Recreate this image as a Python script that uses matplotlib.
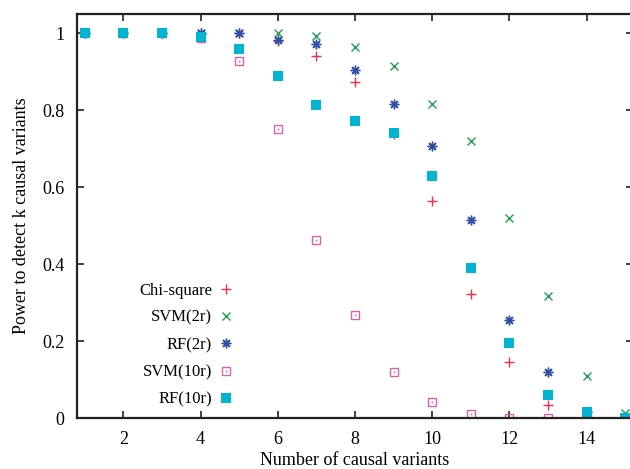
import numpy as np
import matplotlib
matplotlib.use('Agg')
import matplotlib.pyplot as plt
from matplotlib.ticker import FuncFormatter

plt.rcParams['font.family'] = ['Liberation Serif', 'DejaVu Serif']

# number of causal variants
k = [1, 2, 3, 4, 5, 6, 7, 8, 9, 10, 11, 12, 13, 14, 15]

# power
chi_square = [1.0, 1.0, 1.0, 1.0, 1.0, 0.98, 0.94, 0.872, 0.737, 0.564, 0.322, 0.146, 0.035, 0.0, 0.0]
svm_2r     = [1.0, 1.0, 1.0, 1.0, 1.0, 1.0, 0.992, 0.964, 0.915, 0.815, 0.719, 0.519, 0.318, 0.110, 0.013]
rf_2r      = [1.0, 1.0, 1.0, 1.0, 1.0, 0.983, 0.971, 0.904, 0.815, 0.707, 0.514, 0.255, 0.119, 0.015, 0.0]
svm_10r    = [1.0, 1.0, 1.0, 0.987, 0.928, 0.751, 0.463, 0.267, 0.119, 0.042, 0.010, 0.0, 0.0, 0.0, 0.0]
rf_10r     = [1.0, 1.0, 1.0, 0.99, 0.960, 0.888, 0.813, 0.771, 0.742, 0.630, 0.391, 0.194, 0.059, 0.015, 0.0]

labels = ['Chi-square', 'SVM(2r)', 'RF(2r)', 'SVM(10r)', 'RF(10r)']

c_red   = '#f03048'
c_green = '#20a055'
c_blue  = '#3050a8'
c_pink  = '#d565a8'
c_cyan  = '#00b4d2'

fig = plt.figure(figsize=(6.3, 4.69), dpi=100)
ax = fig.add_axes([77/630, 1-418/469, 556/630, 404/469])

ms = 6.5
h1, = ax.plot(k, chi_square, ls='none', marker='+', ms=ms+1, mew=1.0, color=c_red)
h2, = ax.plot(k, svm_2r, ls='none', marker='x', ms=ms-0.5, mew=1.0, color=c_green)
h3, = ax.plot(k, rf_2r, ls='none', marker=(8, 2, 0), ms=ms+0.5, mew=1.0, color=c_blue)
h4a, = ax.plot(k, svm_10r, ls='none', marker='s', ms=ms-0.5, mew=1.0, mfc='none', color=c_pink)
h4b, = ax.plot(k, svm_10r, ls='none', marker='s', ms=1.2, mew=0, color=c_pink)
h5, = ax.plot(k, rf_10r, ls='none', marker='s', ms=ms, mew=0, color=c_cyan)

leg = ax.legend([h1, h2, h3, (h4a, h4b), h5], labels, loc='lower left',
                bbox_to_anchor=(0.085, -0.012), frameon=False, markerfirst=False,
                fontsize=12, handlelength=1.0, handletextpad=0.3,
                labelspacing=0.68)
for t in leg.get_texts():
    t.set_ha('right')
leg._legend_box.align = 'right'

ax.set_xlim(0.8, 15.2)
ax.set_ylim(0, 1.05)
ax.set_xticks([2, 4, 6, 8, 10, 12, 14])
ax.set_yticks([0, 0.2, 0.4, 0.6, 0.8, 1.0])
ax.yaxis.set_major_formatter(FuncFormatter(lambda v, p: f'{v:g}'))
ax.tick_params(direction='in', length=5, width=1.2, top=True, right=True,
               labelsize=13, color='#222222')
ax.tick_params(axis='x', pad=9)
ax.tick_params(axis='y', pad=9)
for s in ax.spines.values():
    s.set_linewidth(1.6)
    s.set_color('#222222')

ax.set_xlabel('Number of causal variants', fontsize=13, labelpad=3)
ax.set_ylabel('Power to detect k causal variants', fontsize=13, labelpad=9)

fig.savefig('out.png', dpi=100)
